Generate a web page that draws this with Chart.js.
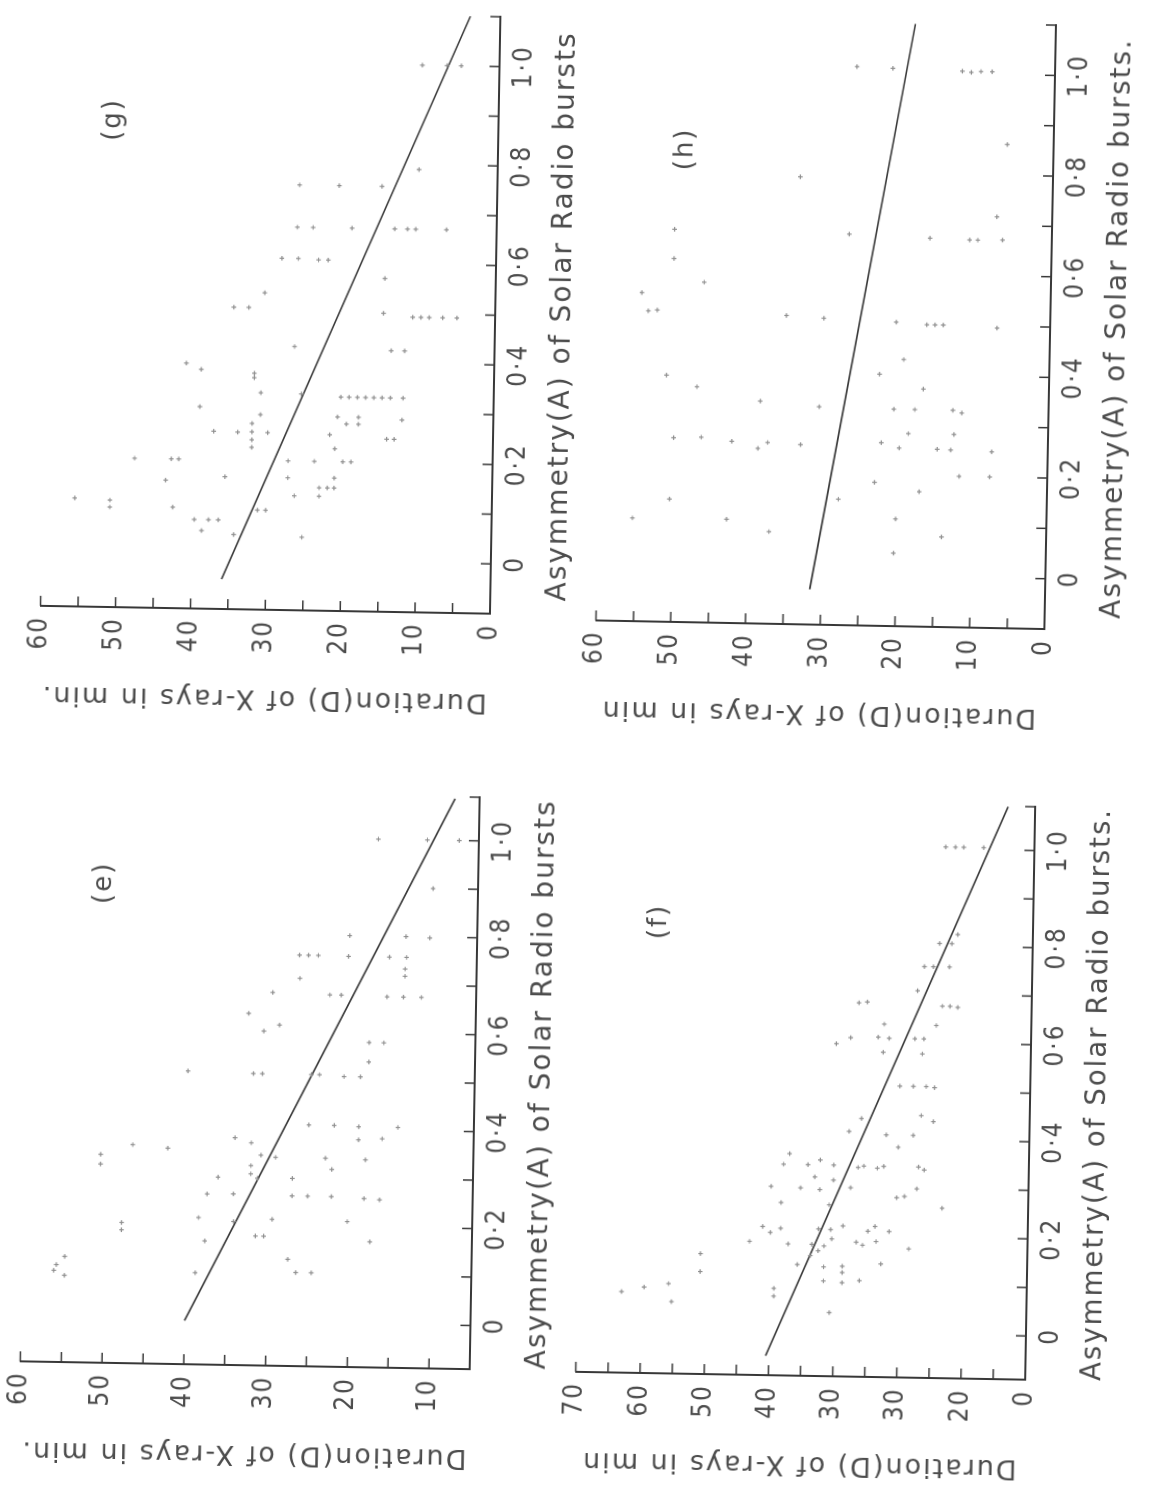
<!DOCTYPE html>
<html>
<head>
<meta charset="utf-8">
<script src="https://cdn.jsdelivr.net/npm/chart.js@4.4.1/dist/chart.umd.min.js"></script>
<style>
  html, body { margin: 0; padding: 0; background: #fff; overflow: hidden; }
  body { width: 1154px; height: 1496px; position: relative; }
  canvas { position: absolute; }
</style>
</head>
<body>
<canvas id="panel-g"></canvas>
<canvas id="panel-h"></canvas>
<canvas id="panel-e"></canvas>
<canvas id="panel-f"></canvas>
<script>
// Scanned figure: four scatter panels, Asymmetry (A) vs Duration (D),
// each page-rotated 90deg CCW. Values are [A, D].

const gPoints = [[1.00,10.3],[1.00,7.0],[1.00,5.1],[0.79,10.5],[0.755,26.4],[0.755,21.1],[0.755,15.4],
  [0.67,26.6],[0.67,24.5],[0.67,19.3],[0.67,13.6],[0.67,11.9],[0.67,10.8],[0.67,6.7],[0.607,28.6],[0.607,26.4],
  [0.605,23.7],[0.605,22.4],[0.57,14.8],[0.537,30.8],[0.507,34.9],[0.507,32.9],[0.50,14.9],[0.493,11.0],
  [0.493,9.9],[0.493,8.8],[0.493,7.0],[0.493,5.1],[0.43,26.7],[0.425,13.8],[0.425,12.0],[0.393,41.1],
  [0.381,39.1],[0.375,32.0],[0.366,32.0],[0.336,31.1],[0.335,25.7],[0.33,20.4],[0.33,19.3],[0.33,18.2],
  [0.33,17.1],[0.33,16.0],[0.33,14.9],[0.33,13.8],[0.33,12.1],[0.306,39.2],[0.292,31.1],[0.29,20.8],
  [0.29,18.0],[0.286,12.2],[0.276,19.6],[0.276,18.0],[0.274,32.2],[0.257,32.2],[0.241,32.2],[0.226,32.2],
  [0.257,37.3],[0.256,34.1],[0.256,30.1],[0.254,21.8],[0.247,14.2],[0.247,13.2],[0.226,21.1],[0.20,47.8],
  [0.20,42.9],[0.20,41.9],[0.20,27.3],[0.20,23.8],[0.20,20.0],[0.20,18.9],[0.166,35.7],[0.166,27.3],
  [0.167,21.1],[0.157,43.6],[0.147,23.1],[0.147,22.0],[0.147,21.1],[0.13,26.4],[0.13,23.1],[0.118,55.7],
  [0.115,51.0],[0.101,51.0],[0.103,42.6],[0.10,31.3],[0.10,30.2],[0.079,39.7],[0.079,37.8],[0.079,36.5],
  [0.057,38.7],[0.05,34.4],[0.047,25.3]];

const hPoints = [[1.01,26.5],[1.008,21.7],[1.005,12.4],[1.003,11.2],[1.005,9.9],[1.005,8.4],[0.861,6.2],
  [0.789,33.8],[0.717,7.4],[0.677,27.1],[0.672,16.3],[0.67,11.0],[0.67,9.9],[0.671,6.6],[0.68,50.5],
  [0.622,50.5],[0.576,46.4],[0.553,54.7],[0.517,53.8],[0.519,52.6],[0.513,35.3],[0.509,30.3],[0.504,20.6],
  [0.5,16.5],[0.5,15.4],[0.5,14.3],[0.496,7.1],[0.43,19.5],[0.40,22.7],[0.39,51.2],[0.368,47.1],[0.372,16.8],
  [0.342,38.6],[0.333,30.7],[0.331,20.7],[0.331,17.9],[0.331,12.8],[0.326,11.6],[0.283,18.7],[0.283,12.6],
  [0.266,50.1],[0.268,46.4],[0.261,42.3],[0.248,38.8],[0.26,37.5],[0.257,33.1],[0.264,22.3],[0.254,19.9],
  [0.253,14.8],[0.252,13.0],[0.25,7.5],[0.2,11.8],[0.2,7.7],[0.185,23.1],[0.168,17.1],[0.144,50.5],
  [0.15,27.9],[0.105,55.4],[0.106,42.8],[0.083,37.1],[0.113,20.2],[0.079,14.0],[0.045,20.4]];

const ePoints = [[1.0,17.3],[1.0,11.3],[1.0,7.4],[0.90,10.5],[0.80,20.6],[0.80,13.7],[0.798,10.8],
  [0.758,26.7],[0.758,25.6],[0.758,24.4],[0.757,20.7],[0.757,15.7],[0.757,13.6],[0.733,13.75],[0.718,13.75],
  [0.71,26.6],[0.68,29.9],[0.677,22.9],[0.677,21.5],[0.675,15.9],[0.675,13.9],[0.675,11.7],[0.636,32.8],
  [0.6,30.9],[0.613,29.0],[0.58,18.0],[0.58,16.2],[0.54,18.0],[0.515,40.1],[0.512,32.1],[0.512,31.0],
  [0.512,25.0],[0.512,24.0],[0.509,21.0],[0.509,19.0],[0.408,25.2],[0.408,22.1],[0.406,19.1],[0.379,19.1],
  [0.406,14.3],[0.382,16.2],[0.379,34.2],[0.369,32.2],[0.361,46.7],[0.355,42.4],[0.34,50.6],[0.32,50.6],
  [0.344,31.0],[0.34,29.2],[0.34,23.1],[0.338,18.2],[0.322,32.2],[0.305,32.2],[0.317,22.3],[0.297,36.2],
  [0.296,31.4],[0.297,27.1],[0.262,37.5],[0.263,34.3],[0.261,27.1],[0.261,25.2],[0.261,22.3],[0.258,18.3],
  [0.256,16.4],[0.213,38.5],[0.206,34.2],[0.212,29.5],[0.21,20.3],[0.2,47.9],[0.185,47.9],[0.165,37.7],
  [0.177,31.5],[0.177,30.5],[0.169,17.5],[0.13,27.5],[0.111,55.8],[0.128,54.8],[0.099,56.1],[0.089,54.8],
  [0.099,38.8],[0.103,26.5],[0.103,24.6]];

const fPoints = [[1.004,13.8],[1.004,12.3],[1.004,11.0],[1.004,7.9],[0.824,11.7],[0.805,14.5],[0.805,12.6],
  [0.757,16.8],[0.757,15.4],[0.757,12.9],[0.707,17.8],[0.68,26.9],[0.682,25.6],[0.676,13.9],[0.676,12.7],
  [0.674,11.5],[0.637,22.9],[0.636,14.8],[0.595,30.3],[0.608,28.1],[0.61,23.8],[0.608,22.1],[0.608,18.1],
  [0.608,16.7],[0.579,23.0],[0.577,16.9],[0.51,20.3],[0.51,18.2],[0.51,16.2],[0.508,14.9],[0.442,26.2],
  [0.45,16.9],[0.438,15.0],[0.415,28.1],[0.409,22.3],[0.409,18.1],[0.384,20.4],[0.367,37.3],[0.345,38.2],
  [0.345,34.4],[0.355,32.5],[0.345,30.4],[0.341,26.6],[0.344,25.7],[0.34,23.6],[0.344,22.6],[0.344,17.2],
  [0.338,16.3],[0.32,33.3],[0.314,30.4],[0.299,40.1],[0.297,35.5],[0.294,32.5],[0.299,27.7],[0.299,17.4],
  [0.28,20.5],[0.283,19.3],[0.266,38.5],[0.263,31.0],[0.26,13.4],[0.216,41.3],[0.204,40.1],[0.213,38.5],
  [0.213,32.6],[0.212,30.7],[0.22,28.8],[0.21,24.9],[0.22,23.8],[0.21,21.6],[0.185,43.3],[0.181,37.3],
  [0.181,33.6],[0.193,30.5],[0.187,26.7],[0.181,25.7],[0.189,23.6],[0.175,18.5],[0.158,50.9],[0.121,50.9],
  [0.158,33.8],[0.168,32.6],[0.178,31.7],[0.139,35.8],[0.137,28.8],[0.143,22.8],[0.135,31.7],[0.106,31.7],
  [0.124,28.8],[0.103,28.8],[0.108,26.1],[0.077,63.1],[0.087,59.6],[0.095,55.8],[0.058,55.3],[0.089,39.4],
  [0.073,39.4],[0.041,30.7]];

// regression lines, [A, D] at both ends
const gLine = [[-0.04, 35.9], [1.10, 4.0]];
const hLine = [[-0.03, 31.5], [1.097, 18.8]];
const eLine = [[0.0, 40.0], [1.086, 8.0]];
const fLine = [[-0.05, 40.5], [1.089, 4.2]];

// axis ranges
const gAsymRange = [-0.1, 1.1];
const hAsymRange = [-0.1, 1.1];
const eAsymRange = [-0.09, 1.09];
const fAsymRange = [-0.09, 1.09];
const gDurRange = [0, 60];
const hDurRange = [0, 60];
const eDurRange = [5, 60];
const fDurRange = [0, 70];

// asymmetry tick marks every 0.1, labelled every 0.2
const asymTicks = [0, 0.1, 0.2, 0.3, 0.4, 0.5, 0.6, 0.7, 0.8, 0.9, 1.0];
const asymTickText = ['0', '', '0·2', '', '0·4', '', '0·6', '', '0·8', '', '1·0'];
// tick text as printed (panel f has misprints in the original)
const durTickText = ['0', '10', '20', '30', '40', '50', '60'];
const fDurTickText = ['0', '20', '30', '30', '40', '50', '60', '70'];

const X_TITLE = 'Asymmetry(A) of Solar Radio bursts';
const X_TITLE_DOT = 'Asymmetry(A) of Solar Radio bursts.';
const Y_TITLE = 'Duration(D) of X-rays in min.';
const Y_TITLE_NODOT = 'Duration(D) of X-rays in min';

const INK = '#383838';
const TEXT = '#4c4c4c';
const DOT = '#909090';
const FONT = "'DejaVu Sans', sans-serif";
const TICK_FONT = "'DejaVu Sans Condensed', 'DejaVu Sans', sans-serif";

// where each plot box sits on the page (centre, size, scan skew in degrees)
const LAYOUT = {
  g: { cx: 270, cy: 311.5, w: 455, h: 597, tilt: 1.0 },
  h: { cx: 825.5, cy: 323, w: 454, h: 604, tilt: 1.1 },
  e: { cx: 250, cy: 1079.5, w: 455, h: 572, tilt: 1.0 },
  f: { cx: 805.5, cy: 1089.5, w: 455, h: 573, tilt: 1.0 }
};

const YW = 104, XH = 85, PL = 10, PR = 20, PT = 20, PB = 10;
const TICK = 10;

// inward tick marks + the panel tag, drawn off the chart's own scales
const axisMarks = {
  id: 'axisMarks',
  beforeDraw(chart) {
    chart.ctx.letterSpacing = '2px';
  },
  afterDraw(chart, args, opts) {
    const { ctx, chartArea: a, scales: { x, y } } = chart;
    ctx.save();
    ctx.strokeStyle = INK;
    ctx.lineWidth = 1.5;
    ctx.beginPath();
    x.ticks.forEach(t => {
      const px = x.getPixelForValue(t.value);
      ctx.moveTo(px, a.bottom);
      ctx.lineTo(px, a.bottom - TICK);
    });
    y.ticks.forEach(t => {
      const py = y.getPixelForValue(t.value);
      ctx.moveTo(a.left, py);
      ctx.lineTo(a.left + TICK, py);
    });
    ctx.stroke();
    ctx.font = '26px ' + FONT;
    ctx.fillStyle = TEXT;
    ctx.textAlign = 'center';
    ctx.textBaseline = 'middle';
    ctx.fillText(opts.tag, x.getPixelForValue(opts.at[0]), y.getPixelForValue(opts.at[1]));
    ctx.restore();
  }
};

function asymLabel(v) {
  const i = asymTicks.findIndex(t => Math.abs(t - v) < 1e-6);
  return i < 0 ? '' : asymTickText[i];
}

function makePanel(id, points, line, asymRange, durRange, durTexts, xTitle, yTitle, tag, tagAt) {
  const lay = LAYOUT[id];
  const canvas = document.getElementById('panel-' + id);
  canvas.width = PL + YW + lay.h + PR;
  canvas.height = PT + lay.w + XH + PB;

  const chart = new Chart(canvas, {
    type: 'scatter',
    data: {
      datasets: [
        {
          data: points.map(p => ({ x: p[0], y: p[1] })),
          pointStyle: 'cross',
          pointRadius: 2.3,
          borderWidth: 1.2,
          borderColor: DOT,
          backgroundColor: DOT
        },
        {
          data: line.map(p => ({ x: p[0], y: p[1] })),
          showLine: true,
          pointRadius: 0,
          borderColor: INK,
          borderWidth: 1.6
        }
      ]
    },
    plugins: [axisMarks],
    options: {
      responsive: false,
      animation: false,
      devicePixelRatio: 1,
      layout: { padding: { left: PL, right: PR, top: PT, bottom: PB } },
      plugins: {
        legend: { display: false },
        tooltip: { enabled: false },
        axisMarks: { tag: tag, at: tagAt }
      },
      scales: {
        x: {
          type: 'linear',
          min: asymRange[0],
          max: asymRange[1],
          afterFit: s => { s.height = XH; },
          afterBuildTicks: s => {
            s.ticks = [asymRange[0], ...asymTicks, asymRange[1]].map(v => ({ value: v }));
          },
          grid: { drawOnChartArea: false, drawTicks: false },
          border: { display: true, color: INK, width: 2 },
          ticks: {
            autoSkip: false,
            maxRotation: 0,
            minRotation: 0,
            padding: 10,
            color: TEXT,
            font: { family: TICK_FONT, size: 26 },
            callback: v => asymLabel(v)
          },
          title: {
            display: true,
            text: xTitle,
            color: TEXT,
            padding: 0,
            font: { family: FONT, size: 28 }
          }
        },
        y: {
          type: 'linear',
          min: durRange[0],
          max: durRange[1],
          afterFit: s => { s.width = YW; },
          grid: { drawOnChartArea: false, drawTicks: false },
          border: { display: true, color: INK, width: 2 },
          ticks: {
            stepSize: 5,
            autoSkip: false,
            padding: 10,
            color: TEXT,
            font: { family: TICK_FONT, size: 26 },
            callback: v => (v % 10 === 0 ? durTexts[v / 10] || '' : '')
          },
          title: {
            display: true,
            text: yTitle,
            color: TEXT,
            padding: 0,
            font: { family: FONT, size: 27 }
          }
        }
      }
    }
  });

  // rotate the whole chart about the centre of its plot box, as on the scan
  const a = chart.chartArea;
  const ox = (a.left + a.right) / 2;
  const oy = (a.top + a.bottom) / 2;
  canvas.style.left = (lay.cx - ox) + 'px';
  canvas.style.top = (lay.cy - oy) + 'px';
  canvas.style.transformOrigin = ox + 'px ' + oy + 'px';
  canvas.style.transform = 'rotate(' + (-90 + lay.tilt) + 'deg)';
  return chart;
}

makePanel('g', gPoints, gLine, gAsymRange, gDurRange, durTickText, X_TITLE, Y_TITLE, '(g)', [0.88, 51.4]);
makePanel('h', hPoints, hLine, hAsymRange, hDurRange, durTickText, X_TITLE_DOT, Y_TITLE_NODOT, '(h)', [0.84, 49.2]);
makePanel('e', ePoints, eLine, eAsymRange, eDurRange, durTickText, X_TITLE, Y_TITLE, '(e)', [0.90, 50.8]);
makePanel('f', fPoints, fLine, fAsymRange, fDurRange, fDurTickText, X_TITLE_DOT, Y_TITLE_NODOT, '(f)', [0.84, 58.2]);
</script>
</body>
</html>
